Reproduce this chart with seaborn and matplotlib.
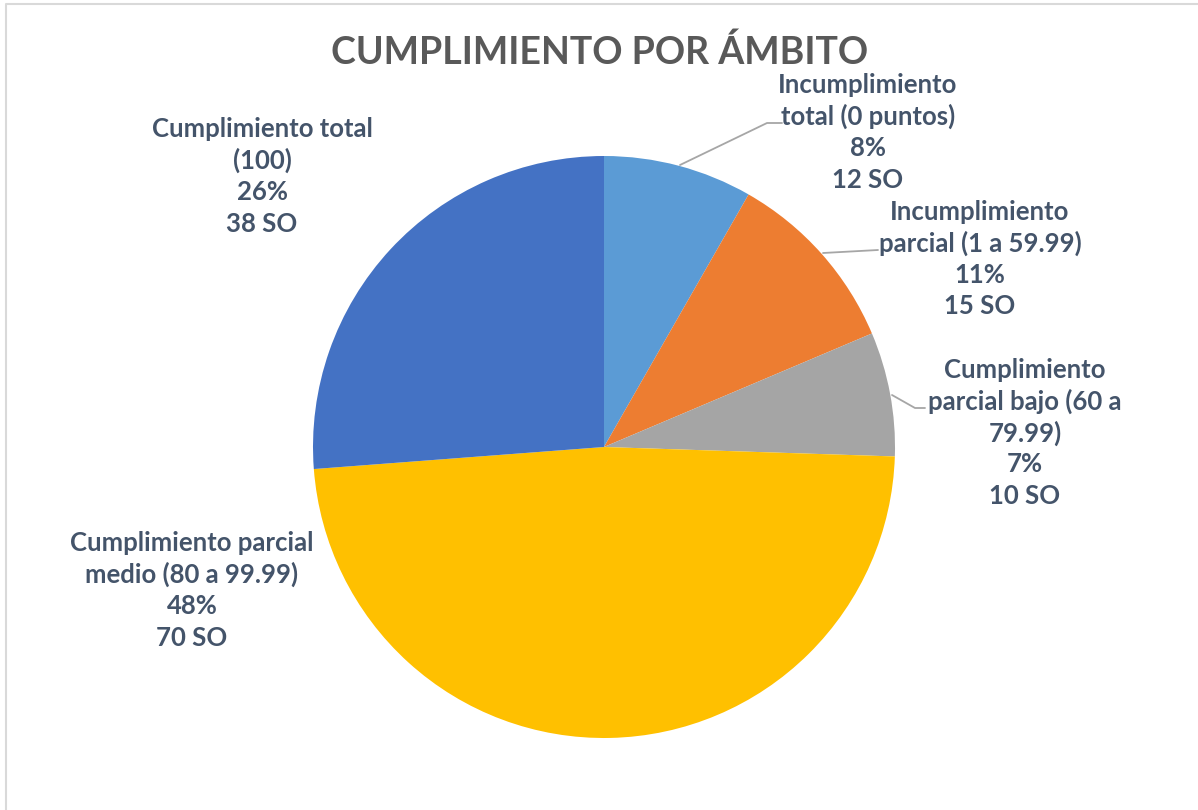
import matplotlib
matplotlib.use("Agg")
import matplotlib.pyplot as plt
import seaborn as sns

# DATOS
categorias = ["Incumplimiento\ntotal (0 puntos)",
              "Incumplimiento\nparcial (1 a 59.99)",
              "Cumplimiento\nparcial bajo (60 a\n79.99)",
              "Cumplimiento parcial\nmedio (80 a 99.99)",
              "Cumplimiento total\n(100)"]
porcentajes = ["8%", "11%", "7%", "48%", "26%"]
cantidades = [12, 15, 10, 70, 38]
colores = ["#5B9BD5", "#ED7D31", "#A5A5A5", "#FFC000", "#4472C4"]

sns.set_theme(style="white")
plt.rcParams['font.family'] = ['Lato', 'DejaVu Sans']

W, H = 1198, 810
fig = plt.figure(figsize=(W / 100, H / 100), dpi=100)
fig.patch.set_facecolor("white")
ax = fig.add_axes([0, 0, 1, 1])

cx, cy, r = 604, H - 447, 291
ax.pie(cantidades, colors=colores, startangle=90, counterclock=False,
       center=(cx, cy), radius=r, frame=True,
       wedgeprops=dict(linewidth=0))
ax.set_xlim(0, W)
ax.set_ylim(0, H)
ax.set_aspect("equal")
ax.axis("off")

# borde del area del grafico (solo arriba e izquierda visibles)
ax.plot([6, 6, W], [0, H - 4, H - 4], color="#D9D9D9", lw=1.5, solid_capstyle="butt")

# posiciones de las etiquetas (centro x, y de la primera linea, en pixeles)
pos_etiquetas = [(868, 85), (980, 212), (1025, 370), (192, 543), (262, 129)]
color_txt = "#44546A"
paso = 31.5
for cat, pct, n, (x, y) in zip(categorias, porcentajes, cantidades, pos_etiquetas):
    lineas = cat.split("\n") + [pct, f"{n} SO"]
    for i, linea in enumerate(lineas):
        ax.text(x, H - (y + i * paso), linea, ha="center", va="center",
                fontsize=18.5, fontweight="bold", color=color_txt)

# lineas guia
gris = "#A6A6A6"
ax.plot([680, 767, 782], [H - 165, H - 123, H - 123], color=gris, lw=1.3)
ax.plot([823, 878], [H - 253, H - 250], color=gris, lw=1.3)
ax.plot([892, 915, 925], [H - 395, H - 408, H - 408], color=gris, lw=1.3)

ax.text(600, H - 52, "CUMPLIMIENTO POR ÁMBITO", ha="center", va="center",
        fontsize=27, fontweight="bold", color="#595959")

fig.savefig("out.png", dpi=100, facecolor="white")
